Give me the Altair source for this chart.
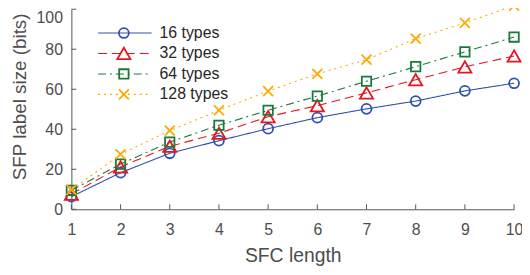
import altair as alt
import pandas as pd

lengths = [1, 2, 3, 4, 5, 6, 7, 8, 9, 10]
series_names = ["16 types", "32 types", "64 types", "128 types"]
t16 = [6.3, 18.3, 28.0, 34.3, 40.3, 45.8, 50.2, 54.1, 59.2, 63.0]
t32 = [7.6, 21.2, 31.5, 38.0, 46.3, 51.8, 58.2, 64.8, 71.2, 76.6]
t64 = [9.5, 22.6, 33.6, 42.0, 49.5, 56.6, 64.0, 71.3, 78.7, 86.1]
t128 = [9.7, 27.5, 39.3, 49.5, 59.1, 67.7, 74.8, 85.3, 93.2, 101.8]
x_ticks = [1, 2, 3, 4, 5, 6, 7, 8, 9, 10]
y_ticks = [0, 20, 40, 60, 80, 100]

# styles
colors = ["#3050b0", "#e8141e", "#1a7a3a", "#ffaa00"]
dashes = [[1, 0], [9, 5], [8, 4, 2, 4], [2, 4]]
shapes = ["circle", "triangle-up", "square", "M-1,-1L1,1M1,-1L-1,1"]
sizes = [100, 175, 90, 100]

rows = []
for name, vals, sz in zip(series_names, [t16, t32, t64, t128], sizes):
    for l, v in zip(lengths, vals):
        rows.append({"length": l, "bits": v, "series": name, "msize": sz})
df = pd.DataFrame(rows)

FONT = "Liberation Sans"
AX = "#4d4d4d"

color = alt.Color("series:N", scale=alt.Scale(domain=series_names, range=colors), legend=None)
dash = alt.StrokeDash("series:N", scale=alt.Scale(domain=series_names, range=dashes), legend=None)
shape = alt.Shape("series:N", scale=alt.Scale(domain=series_names, range=shapes), legend=None)
size = alt.Size("msize:Q", scale=None, legend=None)

X = alt.X("length:Q", scale=alt.Scale(domain=[1, 10], nice=False),
          axis=alt.Axis(values=x_ticks, title="SFC length", ticks=False, tickSize=0, grid=False,
                        labelPadding=12, titlePadding=10, labelFontSize=16, titleFontSize=19.5,
                        labelFont=FONT, titleFont=FONT, labelColor=AX, titleColor=AX,
                        titleFontWeight="normal", domainColor="#555555", labelFlush=False))
Y = alt.Y("bits:Q", scale=alt.Scale(domain=[0, 100], nice=False),
          axis=alt.Axis(values=y_ticks, title="SFP label size (bits)", ticks=False, tickSize=0, grid=False,
                        labelPadding=9, labelFontSize=16, titleFontSize=19,
                        labelOffset={"condition": {"test": "datum.value == 100", "value": 8}, "value": 0},
                        titleX=-42, titleY=88,
                        labelFont=FONT, titleFont=FONT, labelColor=AX, titleColor=AX,
                        titleFontWeight="normal", domainColor="#555555", labelFlush=False))

lines = alt.Chart(df).mark_line(strokeWidth=1.1).encode(x=X, y=Y, color=color, strokeDash=dash)
points = alt.Chart(df).mark_point(filled=False, strokeWidth=1.8, opacity=1).encode(
    x=X, y=Y, color=color, shape=shape, size=size)

xt = pd.DataFrame({"length": x_ticks})
yt = pd.DataFrame({"bits": y_ticks})
xtick_layer = alt.Chart(xt).mark_rule(color="#555555", strokeWidth=1).encode(
    x=X, y=alt.value(202), y2=alt.value(197))
ytick_layer = alt.Chart(yt).mark_rule(color="#555555", strokeWidth=1).encode(
    y=Y, x=alt.value(0), x2=alt.value(5))

main = alt.layer(lines, points, xtick_layer, ytick_layer)

leg = pd.DataFrame({"series": series_names, "msize": sizes})
LY = alt.Y("series:N", sort=series_names,
           scale=alt.Scale(type="point", domain=series_names, range=[24, 86], padding=0), axis=None)
leg_rule = alt.Chart(leg).mark_rule(strokeWidth=1.1).encode(
    x=alt.value(27), x2=alt.value(81), y=LY, color=color, strokeDash=dash)
leg_pt = alt.Chart(leg).mark_point(filled=False, strokeWidth=1.8, opacity=1).encode(
    x=alt.value(53), y=LY, color=color, shape=shape, size=size)
leg_txt = alt.Chart(leg).mark_text(align="left", baseline="middle", fontSize=16, font=FONT,
                                   color="#262626").encode(x=alt.value(89), y=LY, text="series:N")
legend = alt.layer(leg_rule, leg_pt, leg_txt)

chart = alt.layer(main, legend).resolve_scale(y="independent").properties(
    width=447, height=202,
    autosize=alt.AutoSizeParams(type="none"),
    padding={"left": 64, "top": 0, "right": 8, "bottom": 57},
).configure_view(stroke=None)

chart.save("out.html", embed_options={"renderer": "svg", "actions": False})
